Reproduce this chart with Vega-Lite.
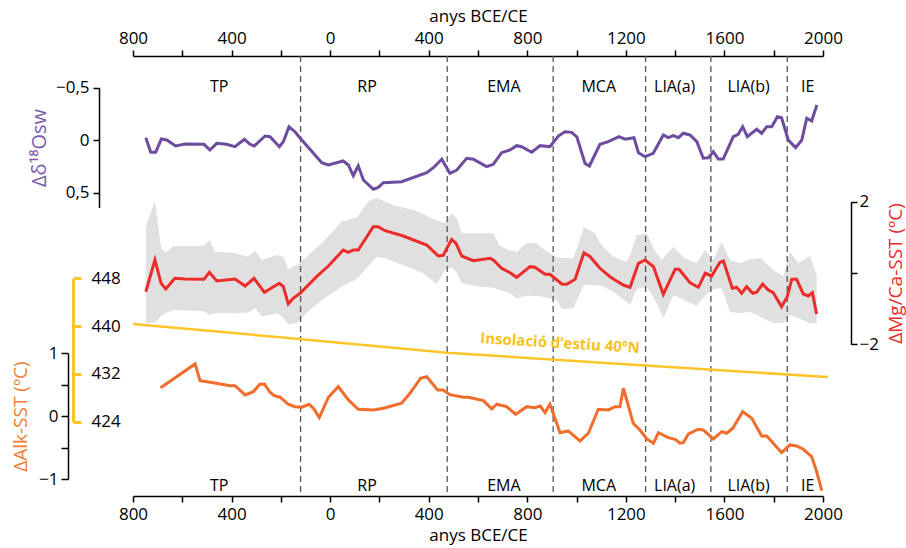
{
  "$schema": "https://vega.github.io/schema/vega-lite/v6.json",
  "autosize": {"type": "none"},
  "width": 690,
  "height": 440,
  "padding": {"left": 133, "top": 56, "right": 83, "bottom": 52},
  "background": "white",
  "config": {
    "font": "Open Sans",
    "view": {"stroke": null},
    "axis": {"grid": false, "labelFontSize": 17, "labelColor": "black", "domainColor": "black", "tickColor": "black", "domainWidth": 1.5, "tickWidth": 1.5, "titleFontWeight": "normal", "labelFont": "Open Sans", "titleFont": "Open Sans"}
  },
  "datasets": {
    "purple": [
      {"year": -748, "v": -0.024}, {"year": -728, "v": 0.115}, {"year": -708, "v": 0.115}, {"year": -685, "v": -0.011},
      {"year": -663, "v": -0.002}, {"year": -627, "v": 0.055}, {"year": -589, "v": 0.036}, {"year": -512, "v": 0.039},
      {"year": -488, "v": 0.093}, {"year": -460, "v": 0.03}, {"year": -420, "v": 0.039}, {"year": -386, "v": 0.062},
      {"year": -348, "v": -0.009}, {"year": -325, "v": 0.039}, {"year": -308, "v": 0.055}, {"year": -264, "v": -0.04},
      {"year": -244, "v": -0.033}, {"year": -206, "v": 0.062}, {"year": -190, "v": 0.014}, {"year": -167, "v": -0.129},
      {"year": -143, "v": -0.081}, {"year": -115, "v": -0.002}, {"year": -34, "v": 0.214}, {"year": -7, "v": 0.236},
      {"year": 53, "v": 0.198}, {"year": 74, "v": 0.236}, {"year": 94, "v": 0.338}, {"year": 114, "v": 0.243},
      {"year": 135, "v": 0.379}, {"year": 175, "v": 0.468}, {"year": 195, "v": 0.449}, {"year": 216, "v": 0.405},
      {"year": 290, "v": 0.395}, {"year": 392, "v": 0.31}, {"year": 419, "v": 0.262}, {"year": 453, "v": 0.182},
      {"year": 486, "v": 0.315}, {"year": 514, "v": 0.284}, {"year": 554, "v": 0.172}, {"year": 581, "v": 0.182},
      {"year": 635, "v": 0.252}, {"year": 662, "v": 0.23}, {"year": 696, "v": 0.119}, {"year": 730, "v": 0.093},
      {"year": 757, "v": 0.052}, {"year": 777, "v": 0.062}, {"year": 818, "v": 0.115}, {"year": 852, "v": 0.052},
      {"year": 892, "v": 0.062}, {"year": 926, "v": -0.04}, {"year": 953, "v": -0.081}, {"year": 980, "v": -0.075},
      {"year": 1001, "v": -0.033}, {"year": 1034, "v": 0.22}, {"year": 1052, "v": 0.246}, {"year": 1095, "v": 0.039},
      {"year": 1129, "v": 0.014}, {"year": 1172, "v": -0.033}, {"year": 1197, "v": -0.009}, {"year": 1233, "v": -0.024},
      {"year": 1251, "v": 0.119}, {"year": 1278, "v": 0.157}, {"year": 1311, "v": 0.125}, {"year": 1352, "v": -0.05},
      {"year": 1372, "v": -0.024}, {"year": 1393, "v": -0.043}, {"year": 1413, "v": -0.024}, {"year": 1433, "v": -0.066},
      {"year": 1460, "v": -0.05}, {"year": 1488, "v": 0.014}, {"year": 1514, "v": 0.172}, {"year": 1535, "v": 0.167},
      {"year": 1555, "v": 0.11}, {"year": 1575, "v": 0.179}, {"year": 1595, "v": 0.179}, {"year": 1636, "v": -0.033},
      {"year": 1656, "v": -0.056}, {"year": 1674, "v": -0.129}, {"year": 1693, "v": -0.033}, {"year": 1731, "v": -0.104},
      {"year": 1751, "v": -0.066}, {"year": 1772, "v": -0.129}, {"year": 1792, "v": -0.129}, {"year": 1815, "v": -0.224},
      {"year": 1832, "v": -0.214}, {"year": 1859, "v": -0.002}, {"year": 1889, "v": 0.071}, {"year": 1914, "v": -0.002},
      {"year": 1934, "v": -0.209}, {"year": 1954, "v": -0.183}, {"year": 1975, "v": -0.335}
    ],
    "red": [
      {"year": -748, "v": -0.525}, {"year": -711, "v": 0.365}, {"year": -686, "v": -0.289}, {"year": -667, "v": -0.449},
      {"year": -630, "v": -0.149}, {"year": -589, "v": -0.168}, {"year": -512, "v": -0.177}, {"year": -490, "v": 0.02},
      {"year": -460, "v": -0.224}, {"year": -386, "v": -0.168}, {"year": -345, "v": -0.365}, {"year": -309, "v": -0.149},
      {"year": -267, "v": -0.541}, {"year": -206, "v": -0.289}, {"year": -190, "v": -0.384}, {"year": -170, "v": -0.87},
      {"year": -150, "v": -0.71}, {"year": -122, "v": -0.569}, {"year": -55, "v": -0.104}, {"year": -7, "v": 0.196},
      {"year": 53, "v": 0.645}, {"year": 74, "v": 0.581}, {"year": 94, "v": 0.645}, {"year": 114, "v": 0.645},
      {"year": 175, "v": 1.299}, {"year": 195, "v": 1.299}, {"year": 223, "v": 1.186}, {"year": 297, "v": 1.038},
      {"year": 392, "v": 0.785}, {"year": 439, "v": 0.477}, {"year": 459, "v": 0.496}, {"year": 493, "v": 0.945},
      {"year": 511, "v": 0.833}, {"year": 534, "v": 0.477}, {"year": 581, "v": 0.345}, {"year": 649, "v": 0.412},
      {"year": 662, "v": 0.365}, {"year": 696, "v": 0.132}, {"year": 730, "v": 0.008}, {"year": 757, "v": -0.121},
      {"year": 811, "v": 0.177}, {"year": 831, "v": 0.16}, {"year": 872, "v": -0.036}, {"year": 892, "v": -0.036},
      {"year": 940, "v": -0.309}, {"year": 960, "v": -0.317}, {"year": 994, "v": -0.177}, {"year": 1030, "v": 0.569},
      {"year": 1055, "v": 0.457}, {"year": 1095, "v": 0.132}, {"year": 1136, "v": -0.104}, {"year": 1156, "v": -0.196},
      {"year": 1190, "v": -0.337}, {"year": 1217, "v": -0.401}, {"year": 1251, "v": 0.272}, {"year": 1278, "v": 0.365},
      {"year": 1312, "v": 0.177}, {"year": 1352, "v": -0.597}, {"year": 1400, "v": 0.104}, {"year": 1416, "v": 0.104},
      {"year": 1460, "v": -0.272}, {"year": 1494, "v": -0.401}, {"year": 1522, "v": -0.008}, {"year": 1548, "v": -0.084},
      {"year": 1582, "v": 0.3}, {"year": 1596, "v": 0.337}, {"year": 1632, "v": -0.429}, {"year": 1650, "v": -0.401},
      {"year": 1670, "v": -0.569}, {"year": 1690, "v": -0.384}, {"year": 1715, "v": -0.569}, {"year": 1731, "v": -0.541},
      {"year": 1755, "v": -0.309}, {"year": 1778, "v": -0.477}, {"year": 1798, "v": -0.552}, {"year": 1832, "v": -0.945},
      {"year": 1855, "v": -0.665}, {"year": 1873, "v": -0.177}, {"year": 1893, "v": -0.177}, {"year": 1920, "v": -0.589},
      {"year": 1940, "v": -0.645}, {"year": 1957, "v": -0.552}, {"year": 1974, "v": -1.15}
    ],
    "band": [
      {"year": -748, "hi": 1.299, "lo": -1.411}, {"year": -711, "hi": 2.028, "lo": -1.394}, {"year": -686, "hi": 0.693, "lo": -1.206},
      {"year": -667, "hi": 0.57, "lo": -1.122}, {"year": -636, "hi": 0.757, "lo": -1.038}, {"year": -582, "hi": 0.757, "lo": -1.052},
      {"year": -515, "hi": 0.757, "lo": -1.066}, {"year": -490, "hi": 0.926, "lo": -1.164}, {"year": -467, "hi": 0.597, "lo": -1.131},
      {"year": -393, "hi": 0.57, "lo": -1.131}, {"year": -332, "hi": 0.457, "lo": -1.108}, {"year": -305, "hi": 0.626, "lo": -0.99},
      {"year": -277, "hi": 0.365, "lo": -1.22}, {"year": -216, "hi": 0.505, "lo": -1.131}, {"year": -190, "hi": 0.457, "lo": -1.262},
      {"year": -170, "hi": 0.104, "lo": -1.431}, {"year": -136, "hi": 0.224, "lo": -1.411}, {"year": -95, "hi": 0.457, "lo": -1.113},
      {"year": -28, "hi": 0.878, "lo": -0.729}, {"year": 47, "hi": 1.439, "lo": -0.379}, {"year": 108, "hi": 1.562, "lo": -0.168},
      {"year": 155, "hi": 2.0, "lo": 0.196}, {"year": 189, "hi": 2.118, "lo": 0.457}, {"year": 230, "hi": 1.972, "lo": 0.407},
      {"year": 270, "hi": 1.879, "lo": 0.289}, {"year": 337, "hi": 1.767, "lo": 0.112}, {"year": 378, "hi": 1.655, "lo": -0.008},
      {"year": 432, "hi": 1.473, "lo": -0.309}, {"year": 466, "hi": 1.394, "lo": 0.084}, {"year": 493, "hi": 1.674, "lo": 0.16},
      {"year": 514, "hi": 1.534, "lo": 0.0}, {"year": 534, "hi": 1.113, "lo": -0.289}, {"year": 608, "hi": 1.113, "lo": -0.384},
      {"year": 662, "hi": 1.113, "lo": -0.407}, {"year": 689, "hi": 0.757, "lo": -0.477}, {"year": 730, "hi": 0.631, "lo": -0.569},
      {"year": 757, "hi": 0.589, "lo": -0.71}, {"year": 798, "hi": 0.833, "lo": -0.631}, {"year": 838, "hi": 0.833, "lo": -0.645},
      {"year": 865, "hi": 0.673, "lo": -0.665}, {"year": 919, "hi": 0.44, "lo": -0.757}, {"year": 940, "hi": 0.426, "lo": -1.018},
      {"year": 987, "hi": 0.412, "lo": -0.99}, {"year": 1030, "hi": 1.282, "lo": -0.323}, {"year": 1075, "hi": 1.113, "lo": -0.351},
      {"year": 1095, "hi": 0.833, "lo": -0.337}, {"year": 1149, "hi": 0.457, "lo": -0.525}, {"year": 1203, "hi": 0.317, "lo": -0.813},
      {"year": 1217, "hi": 0.505, "lo": -0.898}, {"year": 1244, "hi": 1.066, "lo": -0.449}, {"year": 1285, "hi": 1.113, "lo": -0.384},
      {"year": 1318, "hi": 0.626, "lo": -0.757}, {"year": 1345, "hi": 0.365, "lo": -1.15}, {"year": 1352, "hi": 0.421, "lo": -1.271},
      {"year": 1393, "hi": 0.738, "lo": -0.617}, {"year": 1433, "hi": 0.44, "lo": -0.743}, {"year": 1487, "hi": 0.272, "lo": -0.926},
      {"year": 1521, "hi": 0.645, "lo": -0.645}, {"year": 1555, "hi": 0.365, "lo": -0.449}, {"year": 1589, "hi": 0.878, "lo": -0.421},
      {"year": 1623, "hi": 0.365, "lo": -1.094}, {"year": 1663, "hi": 0.272, "lo": -1.131}, {"year": 1704, "hi": 0.379, "lo": -1.086},
      {"year": 1745, "hi": 0.421, "lo": -1.226}, {"year": 1798, "hi": 0.084, "lo": -1.411}, {"year": 1839, "hi": -0.084, "lo": -1.394},
      {"year": 1866, "hi": 0.597, "lo": -1.178}, {"year": 1900, "hi": 0.272, "lo": -1.262}, {"year": 1947, "hi": 0.477, "lo": -1.411},
      {"year": 1974, "hi": -0.056, "lo": -1.411}
    ],
    "orange": [
      {"year": -688, "v": 0.453}, {"year": -548, "v": 0.831}, {"year": -528, "v": 0.565}, {"year": -474, "v": 0.533},
      {"year": -406, "v": 0.485}, {"year": -386, "v": 0.485}, {"year": -345, "v": 0.337}, {"year": -312, "v": 0.39},
      {"year": -285, "v": 0.508}, {"year": -267, "v": 0.512}, {"year": -244, "v": 0.38}, {"year": -227, "v": 0.326},
      {"year": -203, "v": 0.301}, {"year": -170, "v": 0.189}, {"year": -143, "v": 0.151}, {"year": -115, "v": 0.142},
      {"year": -85, "v": 0.189}, {"year": -65, "v": 0.11}, {"year": -44, "v": -0.024}, {"year": -7, "v": 0.301},
      {"year": 33, "v": 0.469}, {"year": 74, "v": 0.258}, {"year": 114, "v": 0.11}, {"year": 175, "v": 0.099},
      {"year": 216, "v": 0.126}, {"year": 290, "v": 0.205}, {"year": 324, "v": 0.364}, {"year": 367, "v": 0.603},
      {"year": 392, "v": 0.628}, {"year": 436, "v": 0.417}, {"year": 459, "v": 0.417}, {"year": 486, "v": 0.342},
      {"year": 540, "v": 0.301}, {"year": 561, "v": 0.301}, {"year": 622, "v": 0.247}, {"year": 656, "v": 0.115},
      {"year": 676, "v": 0.189}, {"year": 716, "v": 0.151}, {"year": 753, "v": 0.03}, {"year": 798, "v": 0.151},
      {"year": 831, "v": 0.135}, {"year": 852, "v": 0.162}, {"year": 872, "v": 0.056}, {"year": 892, "v": 0.189},
      {"year": 933, "v": -0.263}, {"year": 966, "v": -0.235}, {"year": 1014, "v": -0.395}, {"year": 1048, "v": -0.272},
      {"year": 1088, "v": 0.11}, {"year": 1129, "v": 0.099}, {"year": 1156, "v": 0.151}, {"year": 1176, "v": 0.151},
      {"year": 1190, "v": 0.444}, {"year": 1230, "v": -0.113}, {"year": 1257, "v": -0.22}, {"year": 1285, "v": -0.363},
      {"year": 1312, "v": -0.431}, {"year": 1332, "v": -0.263}, {"year": 1372, "v": -0.342}, {"year": 1400, "v": -0.368},
      {"year": 1420, "v": -0.431}, {"year": 1433, "v": -0.422}, {"year": 1454, "v": -0.283}, {"year": 1494, "v": -0.208},
      {"year": 1514, "v": -0.22}, {"year": 1555, "v": -0.363}, {"year": 1589, "v": -0.247}, {"year": 1609, "v": -0.272},
      {"year": 1634, "v": -0.193}, {"year": 1674, "v": 0.072}, {"year": 1711, "v": -0.033}, {"year": 1751, "v": -0.315},
      {"year": 1772, "v": -0.315}, {"year": 1832, "v": -0.581}, {"year": 1866, "v": -0.458}, {"year": 1893, "v": -0.474},
      {"year": 1920, "v": -0.527}, {"year": 1954, "v": -0.644}, {"year": 1974, "v": -0.883}, {"year": 1995, "v": -1.185}
    ],
    "insol": [
      {"year": -800, "v": 440.35}, {"year": -204, "v": 438.13}, {"year": 475, "v": 435.55},
      {"year": 1136, "v": 433.77}, {"year": 2000, "v": 431.53}, {"year": 2020, "v": 431.48}
    ],
    "bounds": [{"year": -120}, {"year": 475}, {"year": 905}, {"year": 1280}, {"year": 1545}, {"year": 1855}],
    "periods": [
      {"label": "TP", "year": -450}, {"label": "RP", "year": 150}, {"label": "EMA", "year": 705},
      {"label": "MCA", "year": 1090}, {"label": "LIA(a)", "year": 1398}, {"label": "LIA(b)", "year": 1698},
      {"label": "IE", "year": 1938}
    ]
  },
  "resolve": {"scale": {"y": "independent"}, "axis": {"y": "independent", "x": "independent"}},
  "layer": [
    {
      "data": {"name": "band"},
      "mark": {"type": "area", "color": "#e0e0e0", "opacity": 1},
      "encoding": {
        "x": {"field": "year", "type": "quantitative", "scale": {"domain": [-800, 2000], "nice": false, "zero": false}, "axis": null},
        "y": {"field": "lo", "type": "quantitative", "scale": {"domain": [-2, 2], "range": [288.3, 145.7], "nice": false, "zero": false}, "axis": null},
        "y2": {"field": "hi"}
      }
    },
    {
      "data": {"name": "bounds"},
      "mark": {"type": "rule", "color": "#555555", "strokeDash": [6, 4], "strokeWidth": 1.3},
      "encoding": {
        "x": {"field": "year", "type": "quantitative", "scale": {"domain": [-800, 2000], "nice": false, "zero": false},
          "axis": {"orient": "top", "values": [-800, -600, -400, -200, 0, 200, 400, 600, 800, 1000, 1200, 1400, 1600, 1800, 2000],
            "labelExpr": "datum.value % 400 === 0 ? format(abs(datum.value), 'd') : ''",
            "title": "anys BCE/CE", "titleFontSize": 17, "tickSize": 6, "labelPadding": 3, "titlePadding": 4, "labelFlush": false}}
      }
    },
    {
      "data": {"name": "insol"},
      "mark": {"type": "line", "color": "#fdc52a", "strokeWidth": 2.5},
      "encoding": {
        "x": {"field": "year", "type": "quantitative", "scale": {"domain": [-800, 2000], "nice": false, "zero": false}, "axis": null},
        "y": {"field": "v", "type": "quantitative", "scale": {"domain": [424, 448], "range": [365.7, 222.3], "nice": false, "zero": false},
          "axis": {"orient": "right", "offset": -750, "values": [424, 432, 440, 448], "title": null, "domainColor": "#fdc52a", "tickColor": "#fdc52a", "domainWidth": 3, "tickWidth": 3, "tickSize": 8, "labelPadding": 10}}
      }
    },
    {
      "data": {"name": "red"},
      "mark": {"type": "line", "color": "#ec2b2b", "strokeWidth": 3},
      "encoding": {
        "x": {"field": "year", "type": "quantitative", "scale": {"domain": [-800, 2000], "nice": false, "zero": false}, "axis": null},
        "y": {"field": "v", "type": "quantitative", "scale": {"domain": [-2, 2], "range": [288.3, 145.7], "nice": false, "zero": false},
          "axis": {"orient": "right", "offset": 28, "values": [-2, 0, 2], "labelExpr": "datum.value > 0 ? '2' : datum.value < 0 ? '−2' : ''",
            "title": "ΔMg/Ca-SST (ºC)", "titleColor": "#ec2b2b", "titleFontSize": 19, "titleAngle": 270, "titleX": 44, "titleY": 217, "titleBaseline": "middle", "titleAlign": "center", "tickSize": 6, "labelPadding": 2}}
      }
    },
    {
      "data": {"name": "purple"},
      "mark": {"type": "line", "color": "#6d4c9f", "strokeWidth": 3},
      "encoding": {
        "x": {"field": "year", "type": "quantitative", "scale": {"domain": [-800, 2000], "nice": false, "zero": false}, "axis": null},
        "y": {"field": "v", "type": "quantitative", "scale": {"domain": [-0.5, 0.64], "range": [31.7, 151.4], "nice": false, "zero": false},
          "axis": {"orient": "left", "offset": 34, "values": [-0.5, 0, 0.5], "labelExpr": "datum.value < 0 ? '−0,5' : datum.value > 0 ? '0,5' : '0'",
            "title": "Δδ¹⁸Osw", "titleColor": "#7b5aae", "titleFontSize": 20, "tickSize": 6, "labelPadding": 4, "titlePadding": 6}}
      }
    },
    {
      "data": {"name": "orange"},
      "mark": {"type": "line", "color": "#f26c2b", "strokeWidth": 3},
      "encoding": {
        "x": {"field": "year", "type": "quantitative", "scale": {"domain": [-800, 2000], "nice": false, "zero": false},
          "axis": {"orient": "bottom", "values": [-800, -600, -400, -200, 0, 200, 400, 600, 800, 1000, 1200, 1400, 1600, 1800, 2000],
            "labelExpr": "datum.value % 400 === 0 ? format(abs(datum.value), 'd') : ''",
            "title": "anys BCE/CE", "titleFontSize": 17, "tickSize": 6, "labelPadding": 4, "titlePadding": 5, "labelFlush": false}},
        "y": {"field": "v", "type": "quantitative", "scale": {"domain": [-1, 1], "range": [423, 297.3], "nice": false, "zero": false},
          "axis": {"orient": "left", "offset": 65, "values": [-1, -0.5, 0, 0.5, 1], "labelExpr": "datum.value == 1 ? '1' : datum.value == -1 ? '−1' : datum.value == 0 ? '0' : ''",
            "title": "ΔAlk-SST (ºC)", "titleColor": "#ec7f35", "titleFontSize": 19, "tickSize": 7, "labelPadding": 3, "titlePadding": 8}}
      }
    },
    {
      "data": {"name": "periods"},
      "mark": {"type": "text", "fontSize": 16, "color": "black", "baseline": "middle", "align": "center"},
      "encoding": {
        "x": {"field": "year", "type": "quantitative", "scale": {"domain": [-800, 2000], "nice": false, "zero": false}, "axis": null},
        "y": {"datum": -0.51, "type": "quantitative", "scale": {"domain": [-0.5, 0.64], "range": [31.7, 151.4], "nice": false, "zero": false}, "axis": null},
        "text": {"field": "label"}
      }
    },
    {
      "data": {"name": "periods"},
      "mark": {"type": "text", "fontSize": 16, "color": "black", "baseline": "middle", "align": "center"},
      "encoding": {
        "x": {"field": "year", "type": "quantitative", "scale": {"domain": [-800, 2000], "nice": false, "zero": false}, "axis": null},
        "y": {"datum": -1.106, "type": "quantitative", "scale": {"domain": [-1, 1], "range": [423, 297.3], "nice": false, "zero": false}, "axis": null},
        "text": {"field": "label"}
      }
    },
    {
      "data": {"values": [{"label": "Insolació d’estiu 40ºN", "year": 933, "v": 437.17}]},
      "mark": {"type": "text", "fontSize": 15, "fontWeight": "bold", "color": "#f9c21b", "baseline": "middle", "align": "center", "angle": 3.5},
      "encoding": {
        "x": {"field": "year", "type": "quantitative", "scale": {"domain": [-800, 2000], "nice": false, "zero": false}, "axis": null},
        "y": {"field": "v", "type": "quantitative", "scale": {"domain": [424, 448], "range": [365.7, 222.3], "nice": false, "zero": false}, "axis": null},
        "text": {"field": "label"}
      }
    }
  ]
}
